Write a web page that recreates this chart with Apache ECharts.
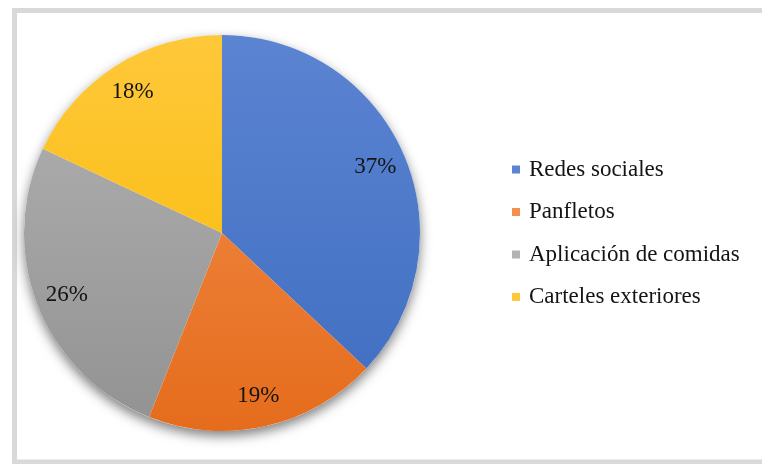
<!DOCTYPE html>
<html>
<head>
<meta charset="utf-8">
<script src="https://cdn.jsdelivr.net/npm/echarts@6/dist/echarts.min.js"></script>
<style>
  html, body { margin: 0; padding: 0; background: #ffffff; }
  #chart { width: 762px; height: 464px; }
</style>
</head>
<body>
<div id="chart"></div>
<script>
// Medios de difusión: participación porcentual
const categories = ['Redes sociales', 'Panfletos', 'Aplicación de comidas', 'Carteles exteriores'];
const shares = [37, 19, 26, 18];
const topColors = ['#5b84d2', '#f3904f', '#b3b3b3', '#ffc83a'];
const bottomColors = ['#3f6dc0', '#e56c1c', '#929292', '#f7b900'];

const cx = 222, cy = 233, R = 198;
const serif = '"Liberation Serif", "Times New Roman", serif';

function fillFor(i) {
  return new echarts.graphic.LinearGradient(0, cy - R, 0, cy + R, [
    { offset: 0, color: topColors[i] },
    { offset: 1, color: bottomColors[i] }
  ], true);
}

const slices = categories.map((name, i) => ({
  name: name,
  value: shares[i],
  itemStyle: { color: fillFor(i) }
}));

const chart = echarts.init(document.getElementById('chart'), null, { renderer: 'canvas' });
chart.setOption({
  animation: false,
  backgroundColor: '#ffffff',
  graphic: [{
    type: 'rect',
    shape: { x: 14.5, y: 10.5, width: 780, height: 451.5 },
    style: { fill: 'none', stroke: '#d9d9d9', lineWidth: 5 },
    z: 0,
    silent: true
  }],
  legend: {
    data: categories,
    orient: 'vertical',
    left: 507,
    top: 153,
    itemWidth: 8,
    itemHeight: 8,
    itemGap: 19.5,
    icon: 'rect',
    selectedMode: false,
    textStyle: {
      fontFamily: serif,
      fontSize: 23,
      lineHeight: 23,
      color: '#141414',
      padding: [0, 0, 0, 4]
    }
  },
  series: [
    {
      // soft drop shadow beneath the whole disc
      type: 'pie',
      center: [cx, cy],
      radius: [0, R],
      silent: true,
      z: 1,
      label: { show: false },
      labelLine: { show: false },
      itemStyle: {
        color: '#ffffff',
        shadowBlur: 12,
        shadowOffsetX: 0,
        shadowOffsetY: 5,
        shadowColor: 'rgba(0,0,0,0.5)'
      },
      data: [{ name: '_base', value: 1 }]
    },
    {
      type: 'pie',
      center: [cx, cy],
      radius: [0, R],
      startAngle: 90,
      clockwise: true,
      silent: true,
      z: 2,
      label: { show: false },
      labelLine: { show: false },
      itemStyle: { borderWidth: 0 },
      data: slices
    },
    {
      // percentage labels placed on an outer ring
      type: 'pie',
      center: [cx, cy],
      radius: [130, R],
      startAngle: 90,
      clockwise: true,
      silent: true,
      z: 3,
      itemStyle: { color: 'rgba(0,0,0,0)' },
      labelLine: { show: false },
      label: {
        show: true,
        position: 'inside',
        formatter: '{c}%',
        fontFamily: serif,
        fontSize: 23,
        color: '#141414'
      },
      data: categories.map((name, i) => ({ name: name, value: shares[i] }))
    }
  ]
});
</script>
</body>
</html>
